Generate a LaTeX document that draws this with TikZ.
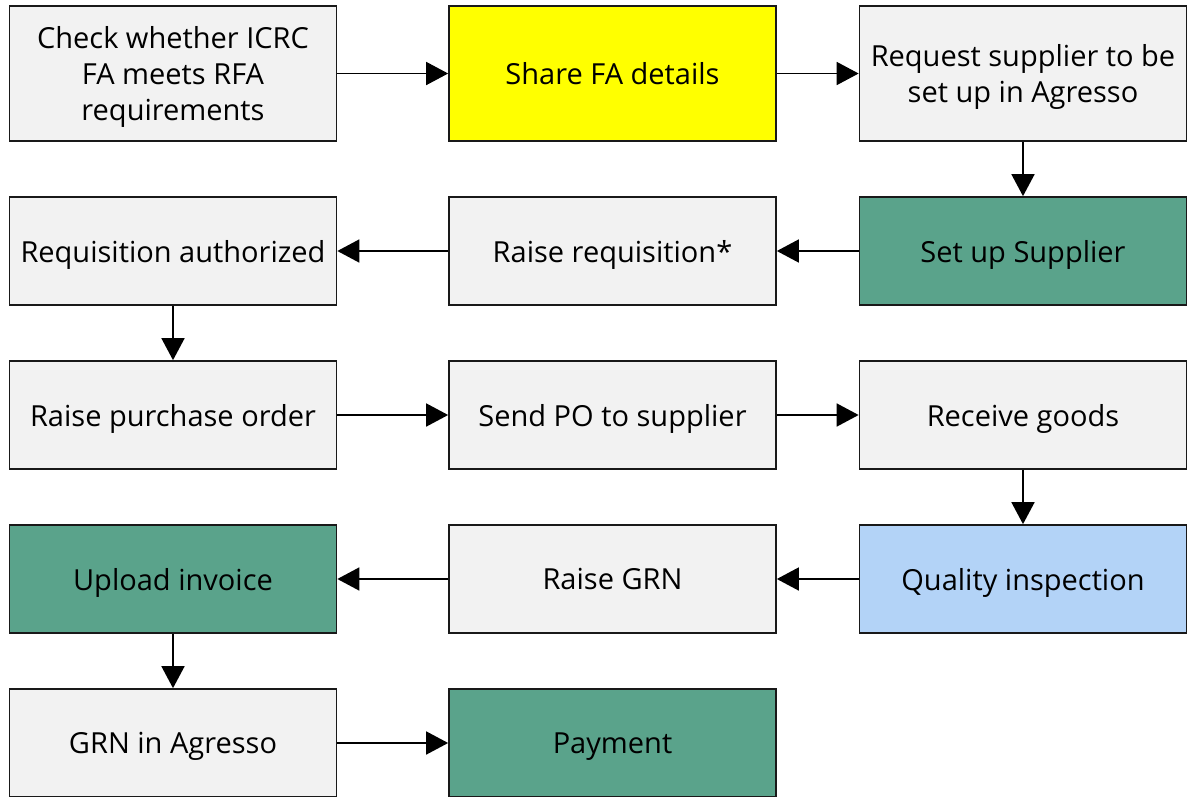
\documentclass[tikz,border=0pt]{standalone}
\usepackage{fontspec}
\setmainfont{Open Sans}
\usepackage{tikz}
\usetikzlibrary{arrows.meta,positioning}

\definecolor{boxgrey}{HTML}{F2F2F2}
\definecolor{boxyellow}{HTML}{FFFF00}
\definecolor{boxgreen}{HTML}{5AA38B}
\definecolor{boxblue}{HTML}{B3D3F7}

\tikzset{
  stepbox/.style={draw=black!90, line width=1.7pt, fill=boxgrey, minimum width=327pt, minimum height=108pt,
    align=center, font=\fontsize{29}{36}\selectfont, inner sep=0pt, text depth=0pt},
  flow/.style={-{Triangle[length=22pt,width=23pt]}, line width=1.7pt}
}

\begin{document}
\begin{tikzpicture}[x=1pt,y=-1pt]
    \useasboundingbox (0,0) rectangle (1187,796);
    %% 
    %% Row 1
    \node[stepbox, minimum height=135pt] (check) at (173,73.5) {Check whether ICRC\\FA meets RFA\\requirements};
    \node[stepbox, minimum height=135pt, fill=boxyellow] (share) at (612.5,73.5) {Share FA details};
    \node[stepbox, minimum height=135pt] (request) at (1023,73.5) {Request supplier to be\\set up in Agresso};
    %% Row 2
    \node[stepbox] (authorized) at (173,251) {Requisition authorized};
    \node[stepbox] (raisereq) at (612.5,251) {Raise requisition*};
    \node[stepbox, fill=boxgreen] (setup) at (1023,251) {Set up Supplier};
    %% Row 3
    \node[stepbox] (raisepo) at (173,415) {Raise purchase order};
    \node[stepbox] (sendpo) at (612.5,415) {Send PO to supplier};
    \node[stepbox] (receive) at (1023,415) {Receive goods};
    %% Row 4
    \node[stepbox, fill=boxgreen] (upload) at (173,579) {Upload invoice};
    \node[stepbox] (raisegrn) at (612.5,579) {Raise GRN};
    \node[stepbox, fill=boxblue] (quality) at (1023,579) {Quality inspection};
    %% Row 5
    \node[stepbox] (grn) at (173,743) {GRN in Agresso};
    \node[stepbox, fill=boxgreen] (payment) at (612.5,743) {Payment};

    % connectors
    \foreach \A/\B in {check/share, share/request, request/setup, setup/raisereq, raisereq/authorized,
        authorized/raisepo, raisepo/sendpo, sendpo/receive, receive/quality, quality/raisegrn,
        raisegrn/upload, upload/grn, grn/payment}
    {
    \draw[flow] (\A) -- (\B);
    }
\end{tikzpicture}
\end{document}
